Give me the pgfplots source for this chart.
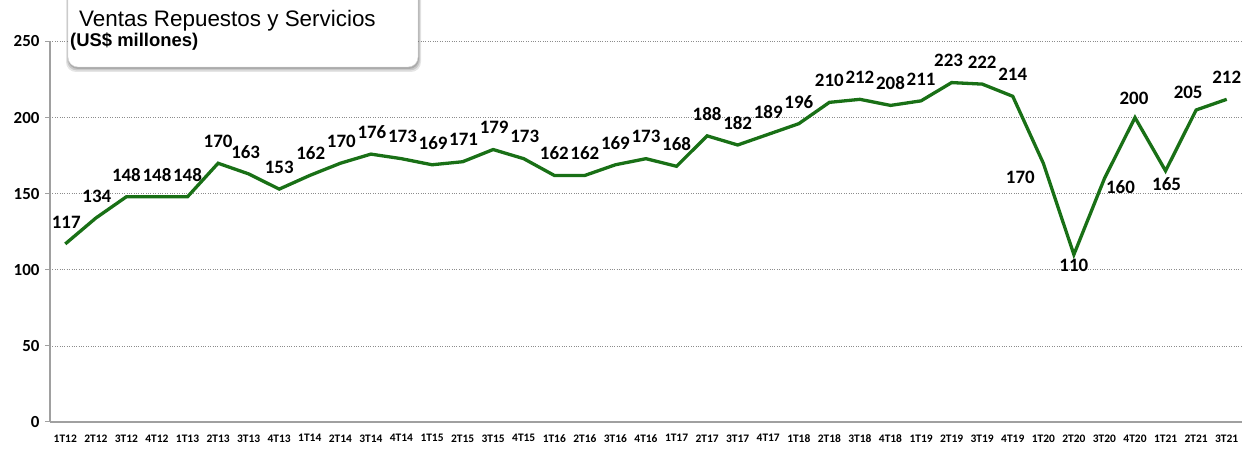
\documentclass[border=0pt]{standalone}
\usepackage{pgfplots}
\pgfplotsset{compat=1.18}
\usepackage{pgfplotstable}
\usepackage{fontspec}
\setmainfont{Liberation Sans}
\newfontfamily\calfont{Carlito}
\definecolor{lineg}{RGB}{25,112,22}
\definecolor{axg}{RGB}{160,160,160}

\pgfplotstableread[col sep=comma]{
x,y,dx,dy
0,117,1,22
1,134,1,22
2,148,0,22
3,148,0,22
4,148,0,22
5,170,0,22
6,163,-3,22
7,153,0,22
8,162,1,22
9,170,1,22
10,176,1,22
11,173,1,22
12,169,1,22
13,171,1,22
14,179,1,22
15,173,1,22
16,162,0,22
17,162,0,22
18,169,0,22
19,173,0,22
20,168,0,22
21,188,0,22
22,182,0,22
23,189,0,22
24,196,0,22
25,210,0,22
26,212,0,22
27,208,0,22
28,211,0,22
29,223,-3,22
30,222,0,22
31,214,0,22
32,170,-23,-14
33,110,0,-11
34,160,16,-9
35,200,-1,19
36,165,1,-13
37,205,-8,18
38,212,0,22
}\data

\begin{document}
\begin{tikzpicture}[x=1bp,y=1bp]
\path[use as bounding box] (0,0) rectangle (1250,451);
\begin{axis}[
  at={(50bp,29bp)}, anchor=south west,
  scale only axis, width=1192bp, height=380.5bp,
  xmin=-0.5, xmax=38.5, ymin=0, ymax=250,
  ytick={0,50,100,150,200,250},
  xtick={0,...,38},
  xticklabels={1T12,2T12,3T12,4T12,1T13,2T13,3T13,4T13,1T14,2T14,3T14,4T14,1T15,2T15,3T15,4T15,1T16,2T16,3T16,4T16,1T17,2T17,3T17,4T17,1T18,2T18,3T18,4T18,1T19,2T19,3T19,4T19,1T20,2T20,3T20,4T20,1T21,2T21,3T21},
  axis x line*=bottom, axis y line*=left,
  axis line style={axg, line width=1.4bp, -},
  x tick style={draw=none},
  y tick style={axg, line width=1bp},
  tick align=outside, major tick length=5bp,
  ymajorgrids, grid style={black!45, dotted, line width=0.6bp},
  /pgf/number format/assume math mode=true,
  yticklabel style={font=\calfont\bfseries\fontsize{17}{17}\selectfont, xshift=-2bp},
  xticklabel style={font=\calfont\bfseries\fontsize{11.5}{11.5}\selectfont, yshift=-4bp},
  clip=false,
]
\addplot[lineg, line width=3.3bp, mark=none] table[x=x,y=y] {\data};
\addplot[draw=none, mark=none,
  point meta=explicit,
  visualization depends on={\thisrow{dx} \as \ddx},
  visualization depends on={\thisrow{dy} \as \ddy},
  nodes near coords,
  nodes near coords style={anchor=center, inner sep=0pt, xshift=\ddx bp, yshift=\ddy bp,
     font=\calfont\bfseries\fontsize{19}{19}\selectfont, text=black},
] table[x=x,y=y,meta=y] {\data};
\end{axis}
% title box
\fill[black, opacity=0.10, rounded corners=10bp] (66,480) rectangle (421,379);
\fill[black, opacity=0.12, rounded corners=10bp] (67,480) rectangle (420,380.5);
\fill[black, opacity=0.15, rounded corners=10bp] (68,480) rectangle (419,382);
\draw[fill=white, draw=black!15, rounded corners=10bp] (68,480) rectangle (418,384);
\node[anchor=base west, inner sep=0pt] at (79,424) {\fontsize{22.5}{22.5}\selectfont Ventas Repuestos y Servicios};
\node[anchor=base west, inner sep=0pt] at (70,404) {\bfseries\fontsize{18.5}{18.5}\selectfont (US\$ millones)};
\end{tikzpicture}
\end{document}
